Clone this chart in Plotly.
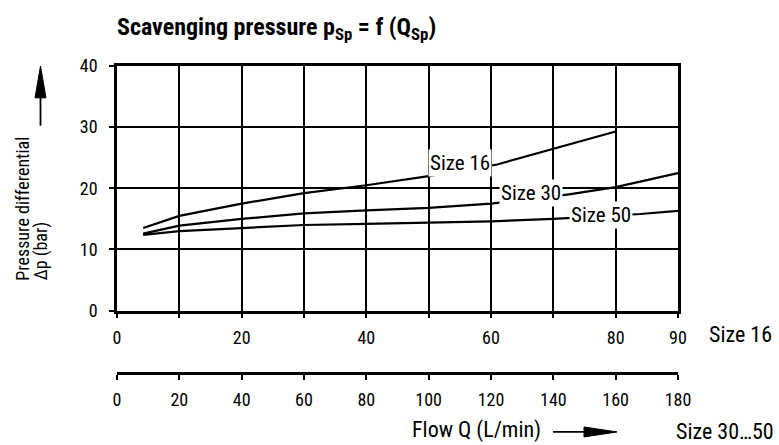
import plotly.graph_objects as go

# ---- data ----
size16_flow = [4.2, 10, 20, 30, 40, 50, 61, 70, 80]
size16_dp = [13.5, 15.5, 17.5, 19.2, 20.5, 22.0, 23.9, 26.4, 29.3]

size30_flow = [8.4, 20, 40, 60, 80, 100, 120, 145, 160, 180]
size30_dp = [12.6, 13.9, 15.0, 15.9, 16.4, 16.8, 17.5, 19.0, 20.2, 22.5]

size50_flow = [8.4, 20, 40, 60, 80, 100, 120, 140, 168, 180]
size50_dp = [12.4, 13.0, 13.5, 14.0, 14.2, 14.4, 14.6, 15.0, 15.8, 16.3]

x16_ticks = [0, 10, 20, 30, 40, 50, 60, 70, 80, 90]
x16_text = ["0", "", "20", "", "40", "", "60", "", "80", "90"]
x30_ticks = [0, 20, 40, 60, 80, 100, 120, 140, 160, 180]
y_ticks = [0, 10, 20, 30, 40]

FONT = "Roboto Condensed, Liberation Sans Narrow, DejaVu Sans Condensed, Liberation Sans, sans-serif"
W, H = 779, 445
ML, MR, MT, MB = 117, 101, 66, 20
PW, PH = W - ML - MR, H - MT - MB
Y_BOTTOM_PX = 312            # pixel of y = 0
X2_PX = 375                  # pixel of the second flow axis


def px(xs):
    return (xs - ML) / PW


def py(ys):
    return (H - MB - ys) / PH


line = dict(color="black", width=2.2)
fig = go.Figure()
fig.add_trace(go.Scatter(x=size16_flow, y=size16_dp, mode="lines", line=line,
                         xaxis="x", yaxis="y", showlegend=False, hoverinfo="skip"))
fig.add_trace(go.Scatter(x=size30_flow, y=size30_dp, mode="lines", line=line,
                         xaxis="x2", yaxis="y", showlegend=False, hoverinfo="skip"))
fig.add_trace(go.Scatter(x=size50_flow, y=size50_dp, mode="lines", line=line,
                         xaxis="x2", yaxis="y", showlegend=False, hoverinfo="skip"))

tickfont = dict(family=FONT, size=18, color="black")
fig.update_layout(
    width=W, height=H,
    margin=dict(l=ML, r=MR, t=MT, b=MB),
    paper_bgcolor="white", plot_bgcolor="white",
    font=dict(family=FONT, color="black"),
    showlegend=False,
    xaxis=dict(range=[0, 90], tickvals=x16_ticks, ticktext=x16_text,
               showgrid=True, gridcolor="black", gridwidth=1.5,
               showline=True, linecolor="black", linewidth=2.5, mirror=True,
               ticks="outside", ticklen=5, tickcolor="black", tickwidth=1.5,
               ticklabelstandoff=4, tickfont=tickfont, zeroline=False,
               domain=[0, 1], anchor="y"),
    xaxis2=dict(range=[0, 180], tickvals=x30_ticks, overlaying="x",
                anchor="free", position=py(X2_PX), side="bottom",
                showgrid=False, showline=True, linecolor="black", linewidth=2.5,
                ticks="outside", ticklen=5, tickcolor="black", tickwidth=1.5,
                ticklabelstandoff=4, tickfont=tickfont, zeroline=False),
    yaxis=dict(range=[0, 40], tickvals=y_ticks, domain=[py(Y_BOTTOM_PX), 1],
               showgrid=True, gridcolor="black", gridwidth=1.5,
               showline=True, linecolor="black", linewidth=2.5, mirror=True,
               ticks="outside", ticklen=5, tickcolor="black", tickwidth=1.5,
               ticklabelstandoff=8, tickfont=tickfont, zeroline=False),
    title=dict(text="Scavenging pressure p<sub>Sp</sub> = f (Q<sub>Sp</sub>)",
               font=dict(family=FONT, size=24, color="black", weight="bold"),
               xref="paper", x=0, xanchor="left",
               yref="container", y=1 - 27 / H, yanchor="middle"),
)

lab = dict(family=FONT, size=21, color="black")
cap = dict(family=FONT, size=22, color="black")
ytl = dict(family=FONT, size=18, color="black")
# curve labels
fig.add_annotation(x=55.0, y=24.2, xref="x", yref="y", text="Size 16", showarrow=False,
                   font=lab, bgcolor="white", borderpad=1)
fig.add_annotation(x=132.8, y=19.2, xref="x2", yref="y", text="Size 30", showarrow=False,
                   font=lab, bgcolor="white", borderpad=1)
fig.add_annotation(x=155.4, y=15.7, xref="x2", yref="y", text="Size 50", showarrow=False,
                   font=lab, bgcolor="white", borderpad=1)

# axis captions
fig.add_annotation(x=px(740), y=py(336), xref="paper", yref="paper", text="Size 16",
                   showarrow=False, font=cap, xanchor="center", yanchor="middle")
fig.add_annotation(x=px(776), y=py(434), xref="paper", yref="paper", text="Size 30…50",
                   showarrow=False, font=cap, xanchor="right", yanchor="middle")
fig.add_annotation(x=px(543), y=py(432), xref="paper", yref="paper", text="Flow Q (L/min)",
                   showarrow=False, font=cap, xanchor="right", yanchor="middle")
fig.add_annotation(x=px(23), y=py(284), xref="paper", yref="paper", text="Pressure differential",
                   showarrow=False, font=ytl, textangle=-90, xanchor="center", yanchor="bottom")
fig.add_annotation(x=px(40.5), y=py(284), xref="paper", yref="paper", text="Δp (bar)",
                   showarrow=False, font=ytl, textangle=-90, xanchor="center", yanchor="bottom")

# arrows (decoration)
fig.add_shape(type="line", xref="paper", yref="paper", x0=px(40.5), x1=px(40.5),
              y0=py(126), y1=py(96), line=dict(color="black", width=1.8))
fig.add_shape(type="path", xref="paper", yref="paper",
              path=f"M {px(35)} {py(98)} L {px(46)} {py(98)} L {px(40.5)} {py(66)} Z",
              fillcolor="black", line=dict(color="black", width=1))
fig.add_shape(type="line", xref="paper", yref="paper", x0=px(553), x1=px(590),
              y0=py(434), y1=py(434), line=dict(color="black", width=1.8))
fig.add_shape(type="path", xref="paper", yref="paper",
              path=f"M {px(584)} {py(429)} L {px(584)} {py(439)} L {px(617)} {py(434)} Z",
              fillcolor="black", line=dict(color="black", width=1))

fig.write_html("out.html", config={"displayModeBar": False},
               post_script="document.body.style.margin='0';document.body.style.overflow='hidden';")
